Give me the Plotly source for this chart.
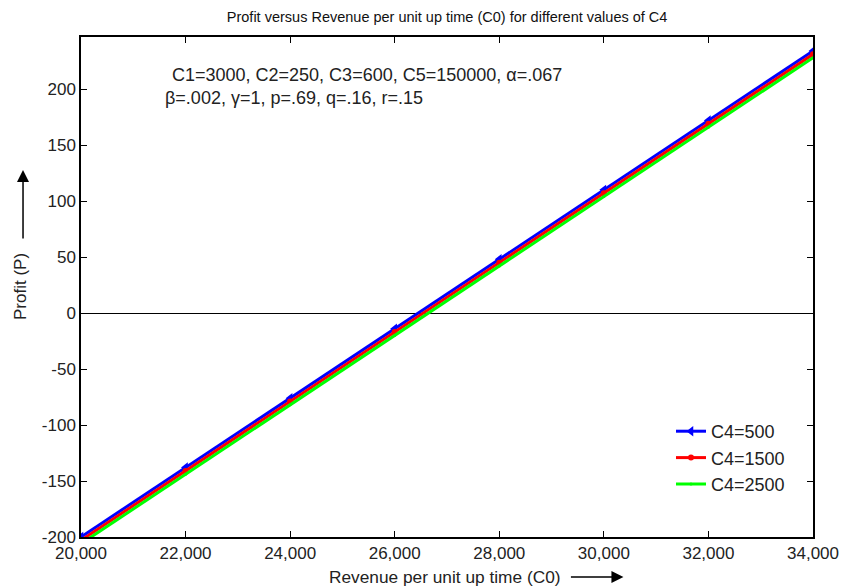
import plotly.graph_objects as go

revenue = [20000, 22000, 24000, 26000, 28000, 30000, 32000, 34000]
profit_c4_500 = [-200, -138, -76, -14, 48, 110, 172, 234]
profit_c4_1500 = [-203, -141, -79, -17, 45, 107, 169, 231]
profit_c4_2500 = [-206, -144, -82, -20, 42, 104, 166, 228]
series_names = ["C4=500", "C4=1500", "C4=2500"]
x_ticks = [20000, 22000, 24000, 26000, 28000, 30000, 32000, 34000]
y_ticks = [-200, -150, -100, -50, 0, 50, 100, 150, 200]

FONT = "Arial, Liberation Sans, sans-serif"
TXT = "#222222"

fig = go.Figure()
fig.add_trace(go.Scatter(x=revenue, y=profit_c4_500, name=series_names[0], mode="lines+markers",
                         line=dict(color="#0000ff", width=3),
                         marker=dict(symbol="triangle-left", size=9, color="#0000ff")))
fig.add_trace(go.Scatter(x=revenue, y=profit_c4_1500, name=series_names[1], mode="lines+markers",
                         line=dict(color="#ff0000", width=3),
                         marker=dict(symbol="circle", size=6, color="#ff0000")))
fig.add_trace(go.Scatter(x=revenue, y=profit_c4_2500, name=series_names[2], mode="lines+markers",
                         line=dict(color="#00ff00", width=3),
                         marker=dict(symbol="circle", size=3, color="#00ff00")))

fig.update_layout(
    width=842, height=586,
    margin=dict(l=81, r=29, t=37, b=49),
    paper_bgcolor="white", plot_bgcolor="white",
    font=dict(family=FONT, size=14, color=TXT),
    title=dict(text="Profit versus Revenue per unit up time (C0) for different values of C4",
               x=0.531, xanchor="center", y=0.971, yanchor="middle",
               font=dict(family=FONT, size=14.5, color="#111111")),
    showlegend=True,
    legend=dict(x=0.806, y=0.248, xanchor="left", yanchor="top",
                bgcolor="rgba(0,0,0,0)", borderwidth=0,
                font=dict(family=FONT, size=18, color=TXT),
                tracegroupgap=0),
    xaxis=dict(range=[20000, 34000], tickvals=x_ticks, tickformat=",d", automargin=False,
               showgrid=False, zeroline=False, showline=True, linecolor="black", linewidth=1.5,
               mirror="ticks", ticks="inside", ticklen=6, tickcolor="black",
               tickfont=dict(family=FONT, size=17, color=TXT)),
    yaxis=dict(range=[-200, 246.5], tickvals=y_ticks, ticktext=[str(v) for v in y_ticks],
               automargin=False,
               showgrid=False, zeroline=True, zerolinecolor="black", zerolinewidth=1,
               showline=True, linecolor="black", linewidth=1.5,
               mirror="ticks", ticks="inside", ticklen=6, tickcolor="black",
               tickfont=dict(family=FONT, size=17, color=TXT)),
)

# Axis titles with arrows
fig.add_annotation(text="Revenue per unit up time (C0)", xref="paper", yref="paper",
                   x=0.658, y=-0.08, xanchor="right", yanchor="middle", showarrow=False,
                   font=dict(family=FONT, size=17.3, color=TXT))
fig.add_annotation(xref="paper", yref="paper", x=0.741, y=-0.08, ax=-54, ay=0,
                   showarrow=True, arrowhead=2, arrowsize=1.6,
                   arrowwidth=1.5, arrowcolor="black", text="")
fig.add_annotation(text="Profit (P)", xref="paper", yref="paper", x=-0.0833, y=0.5,
                   xanchor="center", yanchor="middle", textangle=-90, showarrow=False,
                   font=dict(family=FONT, size=17, color=TXT))
fig.add_annotation(xref="paper", yref="paper", x=-0.0792, y=0.734, ax=0, ay=70,
                   showarrow=True, arrowhead=2, arrowsize=1.6,
                   arrowwidth=1.5, arrowcolor="black", text="")

# Parameter text
fig.add_annotation(text="C1=3000, C2=250, C3=600, C5=150000, α=.067", xref="paper", yref="paper",
                   x=0.1216, y=0.924, xanchor="left", yanchor="middle", showarrow=False,
                   font=dict(family=FONT, size=18, color=TXT))
fig.add_annotation(text="β=.002, γ=1, p=.69, q=.16, r=.15", xref="paper", yref="paper",
                   x=0.112, y=0.878, xanchor="left", yanchor="middle", showarrow=False,
                   font=dict(family=FONT, size=18, color=TXT))

# Remove the default page margin so the 842x586 figure fills the window exactly.
fig.write_html("out.html",
               config={"displayModeBar": False},
               post_script="document.body.style.margin='0';document.body.style.overflow='hidden';")
